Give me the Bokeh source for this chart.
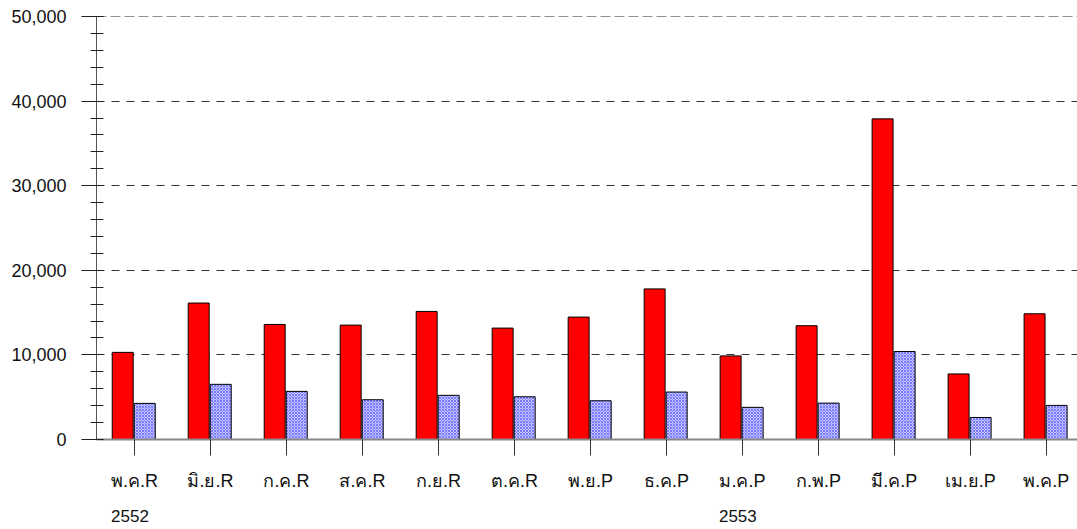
from bokeh.plotting import figure
from bokeh.models import (ColumnDataSource, LinearAxis, FixedTicker, SingleIntervalTicker,
                          Range1d, NumeralTickFormatter, Span)
from bokeh.embed import file_html
from bokeh.resources import INLINE

months = ["พ.ค.R", "มิ.ย.R", "ก.ค.R", "ส.ค.R", "ก.ย.R", "ต.ค.R", "พ.ย.P",
          "ธ.ค.P", "ม.ค.P", "ก.พ.P", "มี.ค.P", "เม.ย.P", "พ.ค.P"]
series_red = [10300, 16130, 13600, 13520, 15140, 13170, 14470,
              17800, 9880, 13450, 37900, 7750, 14860]
series_blue = [4270, 6520, 5690, 4700, 5220, 5050, 4580,
               5610, 3800, 4300, 10400, 2600, 4030]
year_labels = {0: "2552", 8: "2553"}

FONT = "Liberation Sans"
idx = list(range(len(months)))
src = ColumnDataSource(dict(
    x=idx,
    xr=[i - 0.155 for i in idx],
    xb=[i + 0.135 for i in idx],
    red=series_red,
    blue=series_blue,
))

X0, X1 = -0.5, 12.41
YEAR_SHIFT = 0.06  # year labels start near the left edge of the month label

p = figure(width=1077, height=529, output_backend="svg", toolbar_location=None,
           x_range=Range1d(X0, X1), y_range=Range1d(0, 50000),
           min_border_left=96, min_border_right=0, min_border_top=16, min_border_bottom=90,
           x_axis_location=None, y_axis_location=None)
p.extra_x_ranges = {"years": Range1d(X0 + YEAR_SHIFT, X1 + YEAR_SHIFT)}
p.outline_line_color = None
p.xgrid.visible = False

p.vbar(x="xr", top="red", width=0.276, source=src, fill_color="#FF0000",
       line_color="#000000", line_width=1)
p.vbar(x="xb", top="blue", width=0.276, source=src, fill_color="#c4c4ff",
       hatch_pattern="diagonal_cross", hatch_color="#7a7aff", hatch_scale=3,
       hatch_weight=1, line_color="#000000", line_width=1)

# y axis
yax = LinearAxis(ticker=SingleIntervalTicker(interval=10000, num_minor_ticks=5),
                 formatter=NumeralTickFormatter(format="0,0"))
yax.axis_line_color = "#555555"
yax.major_tick_out = 15
yax.major_tick_in = 7
yax.minor_tick_out = 6
yax.minor_tick_in = 7
yax.major_tick_line_color = "#222222"
yax.minor_tick_line_color = "#222222"
yax.major_label_standoff = 15
yax.major_label_text_font = FONT
yax.major_label_text_font_size = "18px"
yax.major_label_text_color = "#111111"
p.add_layout(yax, "left")

p.ygrid.ticker = SingleIntervalTicker(interval=10000)
p.ygrid.grid_line_color = "#333333"
p.ygrid.grid_line_dash = "8 7"
p.ygrid.grid_line_width = 1
p.add_layout(Span(location=50000, dimension="width", line_color="#222222",
                  line_dash="10 4", line_width=1))

# x axis with months
xax = LinearAxis(ticker=FixedTicker(ticks=idx),
                 major_label_overrides={i: m for i, m in enumerate(months)})
xax.axis_line_color = "#888888"
xax.axis_line_width = 2
xax.major_tick_out = 16
xax.major_tick_in = 0
xax.minor_tick_out = 0
xax.minor_tick_in = 0
xax.major_tick_line_color = "#333333"
xax.major_label_standoff = 15
xax.major_label_text_font = FONT
xax.major_label_text_font_size = "18px"
xax.major_label_text_color = "#111111"
p.add_layout(xax, "below")

# years axis
yrax = LinearAxis(x_range_name="years", ticker=FixedTicker(ticks=list(year_labels.keys())),
                  major_label_overrides=year_labels)
yrax.axis_line_color = None
yrax.major_tick_line_color = None
yrax.minor_tick_line_color = None
yrax.major_tick_out = 0
yrax.major_tick_in = 0
yrax.major_label_standoff = 16
yrax.major_label_text_align = "left"
yrax.major_label_text_font = FONT
yrax.major_label_text_font_size = "17px"
yrax.major_label_text_color = "#111111"
p.add_layout(yrax, "below")

open("out.html", "w").write(file_html(p, INLINE))
